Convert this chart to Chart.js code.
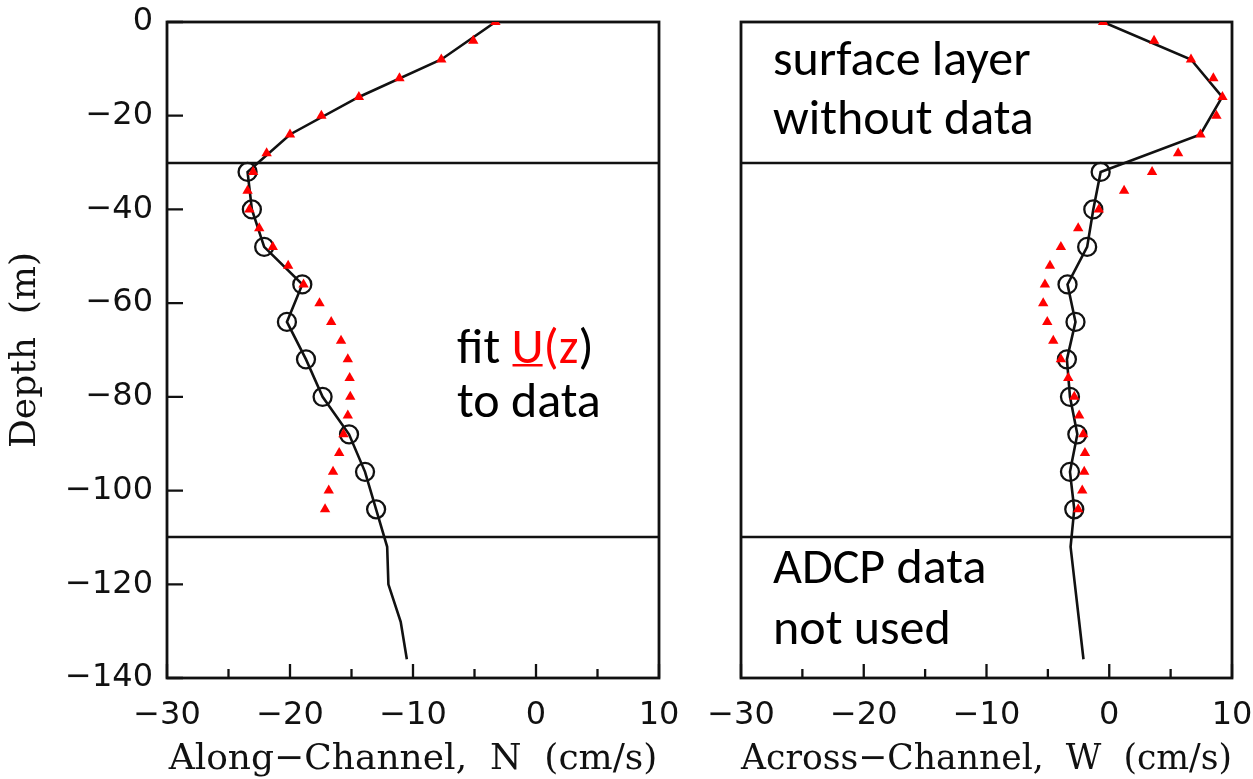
<!DOCTYPE html>
<html>
<head>
<meta charset="utf-8">
<script src="https://cdn.jsdelivr.net/npm/chart.js@4.4.1/dist/chart.umd.min.js"></script>
<style>
  html, body { margin: 0; background: #fff; }
  #wrap { position: relative; width: 1253px; height: 779px; }
  .panel { position: absolute; top: 0; height: 779px; }
  #left { left: 0; width: 700px; }
  #right { left: 700px; width: 553px; }
</style>
</head>
<body>
<div id="wrap">
  <div class="panel" id="left"><canvas id="along"></canvas></div>
  <div class="panel" id="right"><canvas id="across"></canvas></div>
</div>
<script>
// ADCP profile, 8 m bins (m, cm/s)
const profileDepth = [0, -8, -16, -24, -32, -40, -48, -56, -64, -72, -80, -88, -96, -104, -112, -120, -128, -136]
const alongProfile = [-3.3, -7.7, -14.4, -20.0, -23.45, -23.1, -22.1, -19.0, -20.25, -18.7, -17.35, -15.2, -13.9, -13.0, -12.1, -12.0, -11.0, -10.5]
const acrossProfile = [-0.5, 6.66, 9.2, 7.43, -0.7, -1.3, -1.8, -3.4, -2.75, -3.45, -3.2, -2.6, -3.2, -2.85, -3.15, -2.8, -2.45, -2.1]

// bins between the two layer bounds are the ones used in the fit
const usedFrom = 4
const usedTo = 14

// fitted U(z), every 4 m
const fitDepth = [0, -4, -8, -12, -16, -20, -24, -28, -32, -36, -40, -44, -48, -52, -56, -60, -64, -68, -72, -76, -80, -84, -88, -92, -96, -100, -104]
const alongFit = [-3.3, -5.1, -7.7, -11.1, -14.4, -17.45, -20.0, -21.9, -23.0, -23.45, -23.3, -22.5, -21.4, -20.15, -18.9, -17.6, -16.65, -15.85, -15.3, -15.15, -15.1, -15.3, -15.65, -16.0, -16.5, -16.85, -17.15]
const acrossFit = [-0.5, 3.65, 6.66, 8.48, 9.22, 8.73, 7.43, 5.61, 3.49, 1.21, -0.85, -2.53, -3.94, -4.83, -5.24, -5.38, -5.05, -4.56, -3.94, -3.34, -2.85, -2.45, -2.12, -1.98, -2.04, -2.2, -2.53]

const depthTicks = [0, -20, -40, -60, -80, -100, -120, -140]
const speedTicks = [-30, -20, -10, 0, 10]
const speedMinorTicks = [-25, -15, -5, 5]
const layerBounds = [-30, -110]

const INK = '#111'
const RED = '#ff0000'
const minus = v => (v < 0 ? '\u2212' + Math.abs(v) : String(v))
const pts = (xs, ys) => ys.map((y, i) => ({ x: xs[i], y }))

// box, layer bounds and inward ticks
const framePlugin = {
  id: 'frame',
  beforeDatasetsDraw(chart, args, opts) {
    const { ctx, chartArea: a, scales } = chart
    ctx.save()
    ctx.strokeStyle = INK
    ctx.lineWidth = 2.3
    ctx.beginPath()
    layerBounds.forEach(d => {
      const y = Math.round(scales.y.getPixelForValue(d))
      ctx.moveTo(a.left, y)
      ctx.lineTo(a.right, y)
    })
    speedTicks.forEach(v => {
      const x = scales.x.getPixelForValue(v)
      ctx.moveTo(x, a.bottom)
      ctx.lineTo(x, a.bottom - 14)
    })
    speedMinorTicks.forEach(v => {
      const x = scales.x.getPixelForValue(v)
      ctx.moveTo(x, a.bottom)
      ctx.lineTo(x, a.bottom - 9)
    })
    if (opts.depthTicks) {
      depthTicks.forEach(d => {
        const y = scales.y.getPixelForValue(d)
        ctx.moveTo(a.left, y)
        ctx.lineTo(a.left + 16, y)
      })
    }
    ctx.stroke()
    ctx.lineWidth = 2.8
    ctx.strokeRect(a.left, a.top, a.right - a.left, a.bottom - a.top)
    ctx.restore()
  }
}

// text notes on the panels
const notesPlugin = {
  id: 'notes',
  afterDraw(chart, args, opts) {
    const { ctx } = chart
    ctx.save()
    ctx.font = '50px Carlito, Calibri, Lato, sans-serif'
    ctx.textBaseline = 'alphabetic'
    opts.lines.forEach(line => {
      let x = line.x
      line.parts.forEach(([text, color, underline]) => {
        const w = ctx.measureText(text).width
        ctx.fillStyle = color
        ctx.fillText(text, x, line.y)
        if (underline) {
          ctx.fillRect(x + 1, line.y + 1, w - 2, 2.5)
        }
        x += w
      })
    })
    ctx.restore()
  }
}

// drop the label overhang so the layout padding alone places the plot box
const noOverhang = s => {
  s.paddingLeft = 0
  s.paddingRight = 0
  s.paddingTop = 0
  s.paddingBottom = 0
}

function makePanel(id, cfg) {
  return new Chart(document.getElementById(id), {
    type: 'scatter',
    data: {
      datasets: [
        {
          data: pts(cfg.fit, fitDepth),
          pointStyle: 'triangle',
          pointRadius: 6,
          backgroundColor: RED,
          borderWidth: 0,
          order: 0
        },
        {
          data: pts(cfg.profile.slice(usedFrom, usedTo), profileDepth.slice(usedFrom, usedTo)),
          pointStyle: 'circle',
          pointRadius: 9,
          borderColor: INK,
          borderWidth: 2.3,
          backgroundColor: 'rgba(0,0,0,0)',
          order: 1
        },
        {
          data: pts(cfg.profile, profileDepth),
          showLine: true,
          pointRadius: 0,
          borderColor: INK,
          borderWidth: 2.6,
          order: 2
        }
      ]
    },
    options: {
      responsive: true,
      maintainAspectRatio: false,
      animation: false,
      events: [],
      layout: { padding: { top: 22, right: cfg.padRight, bottom: 0, left: 0 } },
      plugins: {
        legend: { display: false },
        tooltip: { enabled: false },
        frame: { depthTicks: cfg.showDepth },
        notes: { lines: cfg.notes }
      },
      scales: {
        x: {
          type: 'linear',
          min: -30,
          max: 10,
          afterBuildTicks: s => { s.ticks = speedTicks.map(value => ({ value })) },
          afterFit: s => { s.height = 101; noOverhang(s) },
          grid: { display: false, drawTicks: false },
          border: { display: false },
          ticks: {
            color: INK,
            font: { family: 'DejaVu Sans', size: 32 },
            padding: 18,
            maxRotation: 0,
            autoSkip: false,
            callback: minus
          },
          title: {
            display: true,
            text: cfg.xTitle,
            color: INK,
            font: { family: 'DejaVu Serif', size: 36 },
            padding: { top: 0, bottom: -2 }
          }
        },
        y: {
          type: 'linear',
          min: -140,
          max: 0,
          afterBuildTicks: s => { s.ticks = depthTicks.map(value => ({ value })) },
          afterFit: s => { s.width = cfg.axisWidth; noOverhang(s) },
          grid: { display: false, drawTicks: false },
          border: { display: false },
          ticks: {
            display: cfg.showDepth,
            color: INK,
            font: { family: 'DejaVu Sans', size: 32 },
            padding: 14,
            callback: minus
          },
          title: {
            display: cfg.showDepth,
            text: 'Depth  (m)',
            color: INK,
            font: { family: 'DejaVu Serif', size: 36 },
            padding: { top: 4, bottom: 0 }
          }
        }
      }
    },
    plugins: [framePlugin, notesPlugin]
  })
}

makePanel('along', {
  profile: alongProfile,
  fit: alongFit,
  xTitle: 'Along\u2212Channel,  N  (cm/s)',
  showDepth: true,
  axisWidth: 167,
  padRight: 41,
  notes: [
    { x: 457, y: 363, parts: [['fit ', '#000'], ['U', RED, true], ['(z', RED], [')', '#000']] },
    { x: 457, y: 417, parts: [['to data', '#000']] }
  ]
})

makePanel('across', {
  profile: acrossProfile,
  fit: acrossFit,
  xTitle: 'Across\u2212Channel,  W  (cm/s)',
  showDepth: false,
  axisWidth: 41,
  padRight: 21,
  notes: [
    { x: 73, y: 75, parts: [['surface layer', '#000']] },
    { x: 73, y: 134, parts: [['without data', '#000']] },
    { x: 73, y: 583, parts: [['ADCP data', '#000']] },
    { x: 73, y: 644, parts: [['not used', '#000']] }
  ]
})
</script>
</body>
</html>
